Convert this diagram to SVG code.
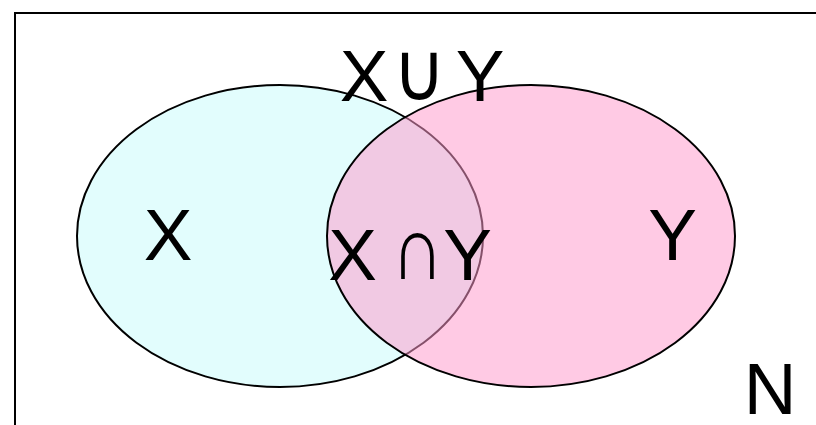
<svg xmlns="http://www.w3.org/2000/svg" width="816" height="425" viewBox="0 0 816 425">
<style>
.set{stroke:#000;stroke-width:2}
.t{font-family:"Liberation Sans","DejaVu Sans",Arial,sans-serif;font-size:73px;fill:#000;text-anchor:middle}
</style>
<rect x="0" y="0" width="816" height="425" fill="#fff"/>
<rect id="universe" x="15" y="13" width="900" height="500" fill="none" stroke="#000" stroke-width="2"/>
<g id="setX">
<ellipse class="set" cx="280" cy="236" rx="203" ry="151" fill="#e2fdfd"/>
</g>
<g id="setY">
<ellipse class="set" cx="531" cy="236" rx="204" ry="151" fill="#ff99cc" fill-opacity="0.52"/>
</g>
<g id="labels">
<text class="t" x="364" y="101">X</text>
<text class="t" transform="translate(419.5,100) scale(1,1.12)" x="0" y="0">∪</text>
<text class="t" x="480" y="101">Y</text>
<text class="t" x="352.5" y="280">X</text>
<text class="t" transform="translate(417.5,279) scale(1,1.25)" x="0" y="0">∩</text>
<text class="t" x="467.5" y="280">Y</text>
<text class="t" x="168" y="260">X</text>
<text class="t" x="672.5" y="260">Y</text>
<text class="t" x="770" y="414">N</text>
</g>
</svg>
